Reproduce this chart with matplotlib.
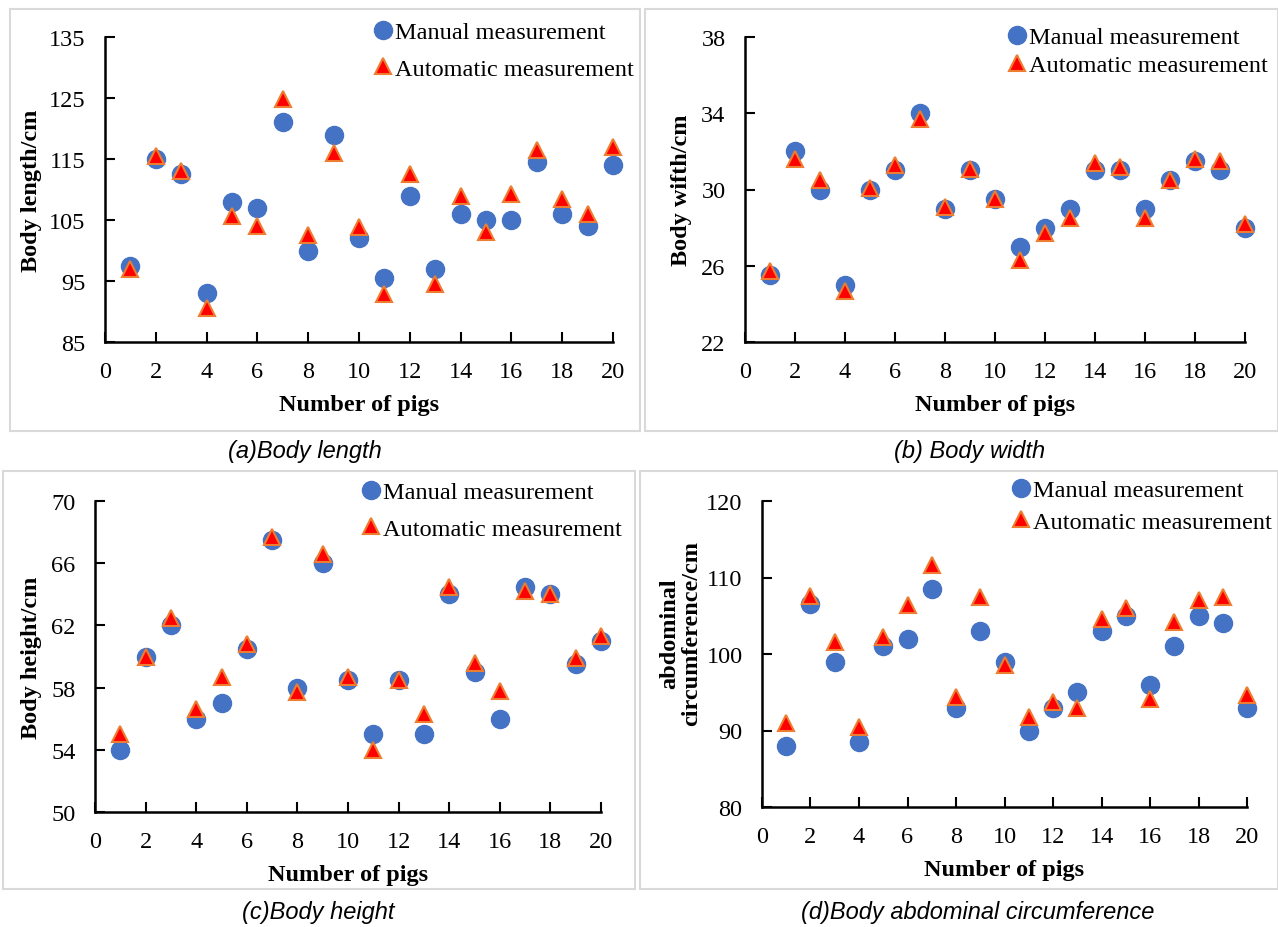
import matplotlib.pyplot as plt
from matplotlib.patches import Rectangle

W, H = 1278, 928

pigs = list(range(1, 21))

# (a) body length
length_manual = [97.5, 115, 112.5, 93, 108, 107, 121, 100, 119, 102,
                 95.5, 109, 97, 106, 105, 105, 114.5, 106, 104, 114]
length_auto = [97, 115.5, 113, 90.5, 105.7, 104, 124.8, 102.5, 116, 103.8,
               92.8, 112.5, 94.5, 109, 103, 109.2, 116.5, 108.5, 106, 117]

# (b) body width
width_manual = [25.5, 32, 30, 25, 30, 31, 34, 29, 31, 29.5,
                27, 28, 29, 31, 31, 29, 30.5, 31.5, 31, 28]
width_auto = [25.7, 31.6, 30.5, 24.7, 30.1, 31.3, 33.7, 29.1, 31.1, 29.5,
              26.3, 27.7, 28.5, 31.4, 31.2, 28.5, 30.5, 31.6, 31.5, 28.2]

# (c) body height
height_manual = [54, 60, 62, 56, 57, 60.5, 67.5, 58, 66, 58.5,
                 55, 58.5, 55, 64, 59, 56, 64.5, 64, 59.5, 61]
height_auto = [55, 60, 62.5, 56.6, 58.7, 60.8, 67.7, 57.7, 66.6, 58.7,
               54, 58.5, 56.3, 64.5, 59.6, 57.8, 64.2, 64, 59.9, 61.3]

# (d) abdominal circumference
abd_manual = [88, 106.5, 99, 88.5, 101, 102, 108.5, 93, 103, 99,
              90, 93, 95, 103, 105, 96, 101, 105, 104, 93]
abd_auto = [91, 107.6, 101.6, 90.5, 102.2, 106.4, 111.6, 94.4, 107.4, 98.5,
            91.8, 93.7, 93, 104.6, 106, 94.1, 104.2, 107, 107.4, 94.6]

x_ticks = list(range(0, 21, 2))

serif = ['Liberation Serif', 'DejaVu Serif']
sans = ['Liberation Sans', 'DejaVu Sans']
FS = 17.5

fig = plt.figure(figsize=(W / 100, H / 100), dpi=100)

# panel frames (pixels: x0, y0, x1, y1 from top-left)
frames = [(10, 10, 640, 432), (645, 10, 1278, 432),
          (3, 472, 635, 890), (640, 472, 1278, 890)]
for x0, y0, x1, y1 in frames:
    fig.patches.append(Rectangle((x0 / W, 1 - y1 / H), (x1 - x0) / W, (y1 - y0) / H,
                                 transform=fig.transFigure, fill=False,
                                 edgecolor='#d9d9d9', linewidth=1.5))

captions = [('(a)Body length', 305, 452), ('(b) Body width', 970, 452),
            ('(c)Body height', 318, 913), ('(d)Body abdominal circumference', 978, 913)]
for txt, cx, cy in captions:
    fig.text(cx / W, 1 - cy / H, txt, ha='center', va='center', fontsize=17,
             style='italic', family=sans)

panels = [
    # axes box px (left, top, right, bottom), data, ylim, yticks, ylabel, ylabel pos, legend (x, y, spacing)
    ((105, 38, 613, 343), length_manual, length_auto, (85, 135), list(range(85, 136, 10)),
     'Body length/cm', (42, 0.5), (373, 22, 0.6)),
    ((745, 38, 1245, 343), width_manual, width_auto, (22, 38), list(range(22, 39, 4)),
     'Body wifth/cm', (692, 0.5), (1007, 27, 0.25)),
    ((95, 502, 601, 813), height_manual, height_auto, (50, 70), list(range(50, 71, 4)),
     'Body height/cm', (42, 0.5), (361, 482, 0.6)),
    ((762, 502, 1247, 808), abd_manual, abd_auto, (80, 120), list(range(80, 121, 10)),
     'abdominal\ncircumference/cm', (702, 0.57), (1011, 480, 0.4)),
]

for box, manual, auto, ylim, yticks, ylabel, ylpos, leg in panels:
    l, t, r, b = box
    ax = fig.add_axes([l / W, 1 - b / H, (r - l) / W, (b - t) / H])
    ax.plot(pigs, manual, 'o', color='#4472C4', markersize=13, label='Manual measurement',
            zorder=3, clip_on=False)
    ax.plot(pigs, auto, '^', color='#FF0000', markeredgecolor='#ED7D31', markeredgewidth=1.5,
            markersize=12, label='Automatic measurement', zorder=4, clip_on=False)
    ax.set_xlim(0, 20)
    ax.set_ylim(*ylim)
    ax.set_xticks(x_ticks)
    ax.set_yticks(yticks)
    for s in ['top', 'right']:
        ax.spines[s].set_visible(False)
    for s in ['left', 'bottom']:
        ax.spines[s].set_linewidth(1.8)
    ax.tick_params(direction='in', length=7, width=1.5, labelsize=FS, pad=14)
    for lab in ax.get_xticklabels() + ax.get_yticklabels():
        lab.set_family(serif)
    ax.set_xlabel('Number of pigs', fontsize=FS, fontweight='bold', family=serif, labelpad=8)
    ax.set_ylabel(ylabel, fontsize=FS, fontweight='bold', family=serif, linespacing=1.05)
    ax.yaxis.set_label_coords((ylpos[0] - l) / (r - l), ylpos[1])
    lx, ly, sp = leg
    ax.legend(loc='upper left', bbox_to_anchor=(lx / W, 1 - ly / H),
              bbox_transform=fig.transFigure, frameon=False, handlelength=0.8,
              handletextpad=0.1, borderpad=0, borderaxespad=0, labelspacing=sp,
              prop={'family': serif, 'size': FS})

fig.savefig('out.png', dpi=100)
